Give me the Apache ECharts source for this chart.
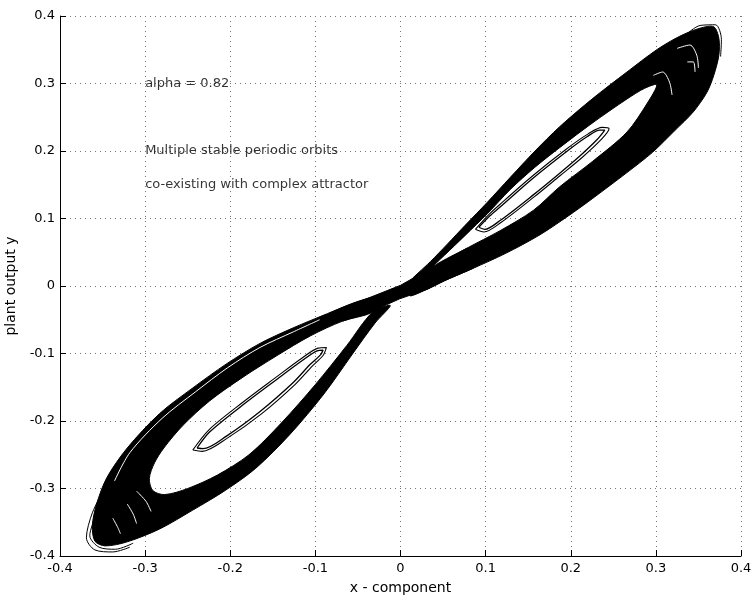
<!DOCTYPE html>
<html><head><meta charset="utf-8">
<script src="https://cdn.jsdelivr.net/npm/echarts/dist/echarts.min.js"></script>
<style>html,body{margin:0;padding:0;background:#fff}#chart{width:753px;height:597px}</style>
</head><body><div id="chart"></div>
<script>
// ---- axis settings ----
const xRange = [-0.4, 0.4];
const yRange = [-0.4, 0.4];
const tickStep = 0.1;

// ---- annotation texts (placed at data coordinates) ----
const annoText = ['alpha = 0.82', 'Multiple stable periodic orbits', 'co-existing with complex attractor'];
const annoX = [-0.3, -0.3, -0.3];
const annoY = [0.3, 0.2, 0.15];

// ---- dense attractor bands (outline) ----
const upperLobeOuter = [[0.011,0.007],[0.035,0.036],[0.055,0.062],[0.076,0.090],[0.102,0.124],[0.129,0.161],[0.158,0.200],[0.187,0.236],[0.226,0.278],[0.266,0.317],[0.301,0.350],[0.328,0.370],[0.352,0.382],[0.368,0.384],[0.374,0.367],[0.374,0.342],[0.368,0.312],[0.360,0.287],[0.344,0.258],[0.322,0.230],[0.296,0.198],[0.266,0.168],[0.226,0.130],[0.203,0.109],[0.164,0.076],[0.123,0.048],[0.085,0.026],[0.052,0.008],[0.031,-0.005],[0.011,-0.014]];
const upperLobeHole = [[0.032,0.023],[0.078,0.056],[0.117,0.082],[0.156,0.112],[0.187,0.147],[0.226,0.185],[0.266,0.228],[0.290,0.271],[0.301,0.298],[0.287,0.293],[0.266,0.277],[0.226,0.242],[0.187,0.205],[0.158,0.176],[0.129,0.143],[0.102,0.107],[0.076,0.075],[0.052,0.046],[0.032,0.023]];
const lowerLobeOuter = [[-0.006,-0.010],[-0.048,-0.022],[-0.086,-0.041],[-0.126,-0.062],[-0.165,-0.085],[-0.204,-0.115],[-0.244,-0.151],[-0.283,-0.189],[-0.321,-0.240],[-0.345,-0.284],[-0.357,-0.323],[-0.362,-0.355],[-0.359,-0.378],[-0.347,-0.385],[-0.321,-0.379],[-0.283,-0.360],[-0.244,-0.332],[-0.206,-0.303],[-0.170,-0.270],[-0.130,-0.220],[-0.090,-0.160],[-0.056,-0.100],[-0.030,-0.055],[-0.012,-0.029]];
const lowerLobeHole = [[-0.033,-0.039],[-0.063,-0.088],[-0.100,-0.146],[-0.140,-0.203],[-0.178,-0.250],[-0.215,-0.280],[-0.250,-0.300],[-0.277,-0.309],[-0.291,-0.303],[-0.295,-0.285],[-0.289,-0.262],[-0.278,-0.240],[-0.256,-0.207],[-0.224,-0.170],[-0.185,-0.135],[-0.145,-0.103],[-0.106,-0.074],[-0.068,-0.052],[-0.033,-0.039]];
const centralBand = [[-0.070,-0.033],[-0.036,-0.017],[0.000,0.001],[0.031,0.023],[0.078,0.056],[0.085,0.026],[0.052,0.008],[0.031,-0.005],[-0.001,-0.019],[-0.036,-0.039],[-0.068,-0.052]];

// ---- stable periodic orbits (two nearly coincident loops per side) ----
const upperOrbitA = [[0.092,0.087],[0.105,0.104],[0.117,0.117],[0.156,0.160],[0.196,0.200],[0.219,0.221],[0.234,0.231],[0.240,0.231],[0.231,0.217],[0.211,0.193],[0.186,0.166],[0.156,0.135],[0.117,0.097],[0.099,0.084],[0.092,0.087]];
const upperOrbitB = [[0.088,0.084],[0.104,0.106],[0.116,0.120],[0.155,0.163],[0.195,0.203],[0.220,0.225],[0.237,0.235],[0.245,0.233],[0.235,0.216],[0.213,0.190],[0.187,0.163],[0.157,0.132],[0.118,0.094],[0.098,0.080],[0.088,0.084]];
const lowerOrbitA = [[-0.239,-0.240],[-0.224,-0.216],[-0.185,-0.176],[-0.145,-0.138],[-0.115,-0.110],[-0.098,-0.096],[-0.091,-0.095],[-0.094,-0.102],[-0.106,-0.116],[-0.126,-0.143],[-0.165,-0.186],[-0.204,-0.222],[-0.232,-0.241],[-0.239,-0.240]];
const lowerOrbitB = [[-0.244,-0.243],[-0.225,-0.213],[-0.186,-0.173],[-0.146,-0.135],[-0.116,-0.107],[-0.097,-0.092],[-0.087,-0.091],[-0.091,-0.103],[-0.104,-0.119],[-0.124,-0.146],[-0.163,-0.189],[-0.203,-0.225],[-0.233,-0.245],[-0.244,-0.243]];

// ---- stray outer orbit segments at the tips ----
const lowerTipStrayA = [[-0.348,-0.301],[-0.362,-0.336],[-0.369,-0.373],[-0.359,-0.391],[-0.338,-0.394],[-0.318,-0.387]];
const lowerTipStrayB = [[-0.344,-0.304],[-0.357,-0.338],[-0.365,-0.370],[-0.354,-0.387],[-0.335,-0.390],[-0.314,-0.381]];
const upperTipStray = [[0.335,0.372],[0.352,0.386],[0.370,0.387],[0.377,0.365],[0.376,0.340]];

// ---- thin white gaps between orbits inside the dense bands ----
const lowerBandGap = [[-0.336,-0.289],[-0.318,-0.247],[-0.280,-0.196],[-0.241,-0.157],[-0.203,-0.121],[-0.165,-0.091],[-0.126,-0.068],[-0.095,-0.050]];
const lowerTipArcA = [[-0.310,-0.304],[-0.299,-0.319],[-0.293,-0.334]];
const lowerTipArcB = [[-0.321,-0.323],[-0.314,-0.338],[-0.310,-0.352]];
const lowerTipArcC = [[-0.338,-0.344],[-0.332,-0.358],[-0.329,-0.367]];
const upperTipArcA = [[0.297,0.312],[0.308,0.317],[0.316,0.302],[0.319,0.283]];
const upperTipArcB = [[0.325,0.352],[0.340,0.357],[0.348,0.342],[0.350,0.323]];
const upperTipArcC = [[0.337,0.332],[0.344,0.332],[0.346,0.317]];

const bandShapes = [upperLobeOuter.concat(upperLobeHole), lowerLobeOuter.concat(lowerLobeHole), centralBand];
const bandSmooth = [0.3, 0.3, 0];

const FONT = 'DejaVu Sans';
const chart = echarts.init(document.getElementById('chart'), null, {renderer: 'canvas'});

function lineSeries(data, color, width) {
  return {type: 'line', data: data, showSymbol: false, symbol: 'none', smooth: 0.3,
    lineStyle: {color: color, width: width}, silent: true, z: 3};
}

const option = {
  animation: false,
  backgroundColor: '#fff',
  grid: {left: 60, right: 12, top: 16, bottom: 41, containLabel: false, outerBoundsMode: 'none'},
  xAxis: {
    type: 'value', min: xRange[0], max: xRange[1], interval: tickStep,
    name: 'x - component', nameLocation: 'middle', nameGap: 25,
    nameTextStyle: {fontFamily: FONT, fontSize: 14, color: '#000'},
    axisLine: {show: true, onZero: false, lineStyle: {color: '#000', width: 1}},
    axisTick: {show: true, inside: true, length: 6, lineStyle: {color: '#000'}},
    axisLabel: {fontFamily: FONT, fontSize: 13, color: '#000', margin: 6,
      formatter: v => Math.abs(v) < 1e-9 ? '0' : v.toFixed(1)},
    splitLine: {show: true, lineStyle: {color: '#777', type: [1, 4], width: 1}}
  },
  yAxis: {
    type: 'value', min: yRange[0], max: yRange[1], interval: tickStep,
    name: 'plant output y', nameLocation: 'middle', nameGap: 42,
    nameTextStyle: {fontFamily: FONT, fontSize: 14, color: '#000'},
    axisLine: {show: true, onZero: false, lineStyle: {color: '#000', width: 1}},
    axisTick: {show: true, inside: true, length: 6, lineStyle: {color: '#000'}},
    axisLabel: {fontFamily: FONT, fontSize: 13, color: '#000', margin: 5,
      formatter: v => Math.abs(v) < 1e-9 ? '0' : v.toFixed(1)},
    splitLine: {show: true, lineStyle: {color: '#777', type: [1, 4], width: 1}}
  },
  series: [
    {
      type: 'custom', silent: true, z: 2,
      data: bandShapes.map((s, i) => [i]),
      encode: {x: 0},
      renderItem: function (params, api) {
        const i = api.value(0);
        const pts = bandShapes[i].map(p => api.coord(p));
        return {type: 'polygon', shape: {points: pts, smooth: bandSmooth[i]},
          style: {fill: '#000', stroke: '#000', lineWidth: 1}};
      }
    },
    lineSeries(lowerBandGap, '#fff', 1),
    lineSeries(lowerTipArcA, '#fff', 1),
    lineSeries(lowerTipArcB, '#fff', 1),
    lineSeries(lowerTipArcC, '#fff', 1),
    lineSeries(upperTipArcA, '#fff', 1),
    lineSeries(upperTipArcB, '#fff', 1),
    lineSeries(upperTipArcC, '#fff', 1),
    lineSeries(upperOrbitA, '#000', 1.3),
    lineSeries(upperOrbitB, '#000', 1.1),
    lineSeries(lowerOrbitA, '#000', 1.3),
    lineSeries(lowerOrbitB, '#000', 1.1),
    lineSeries(lowerTipStrayA, '#000', 1),
    lineSeries(lowerTipStrayB, '#000', 1),
    lineSeries(upperTipStray, '#000', 1),
    {
      type: 'scatter', symbolSize: 0, silent: true, z: 5,
      data: annoX.map((x, i) => [x, annoY[i]]),
      label: {show: true, position: 'right', distance: 0,
        fontFamily: FONT, fontSize: 13, color: '#000',
        formatter: p => annoText[p.dataIndex]}
    }
  ]
};
chart.setOption(option);
</script>
</body></html>
